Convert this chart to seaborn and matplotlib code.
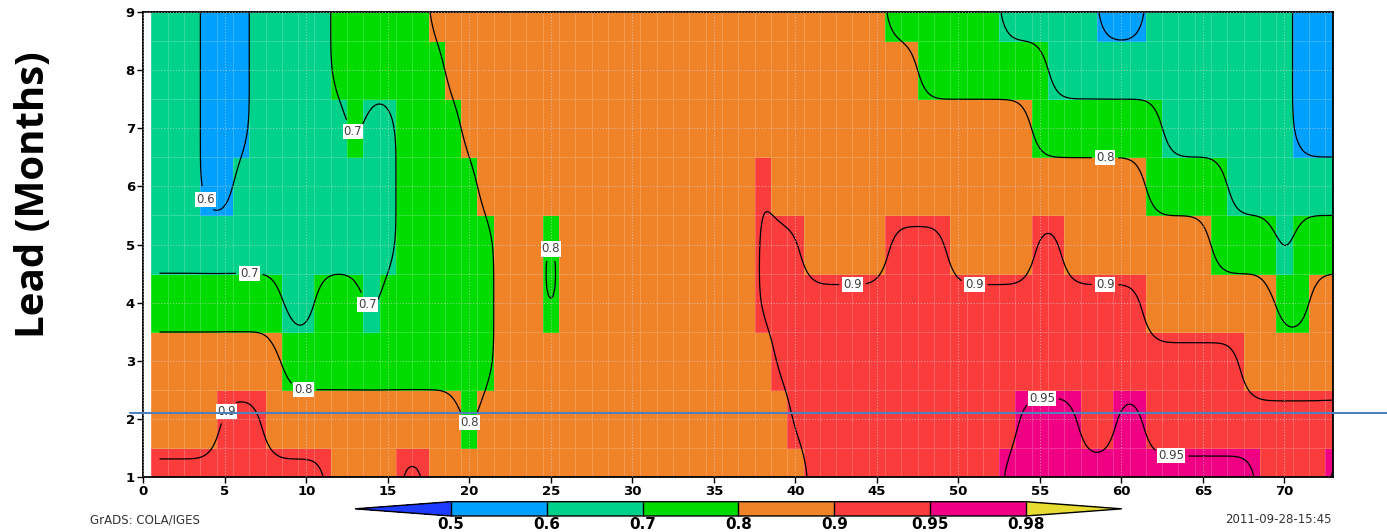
import numpy as np
import pandas as pd
import matplotlib
matplotlib.use("Agg")
import matplotlib.pyplot as plt
from matplotlib.colors import ListedColormap, BoundaryNorm
from matplotlib.lines import Line2D
import seaborn as sns

# --- levels and GrADS default shade colours ---
levels = [0.5, 0.6, 0.7, 0.8, 0.9, 0.95, 0.98]
level_labels = ["0.5", "0.6", "0.7", "0.8", "0.9", "0.95", "0.98"]
shade_colors = ["#00a0ff", "#00d28c", "#00dc00", "#f08228", "#fa3c3c", "#f00082"]
under_color = "#1e3cff"
over_color = "#e6dc32"
contour_levels = [0.6, 0.7, 0.8, 0.9, 0.95]

# representative value of each shaded class (B=0.5-0.6 ... M=0.95-0.98)
class_value = {"B": 0.55, "T": 0.65, "G": 0.75, "O": 0.85, "R": 0.925, "M": 0.965}

target = list(range(1, 74))   # x axis
lead = list(range(1, 10))     # lead months

# shaded class per lead month, run length (class, columns) from left to right
lead1 = [("R", 11), ("O", 4), ("R", 2), ("O", 23), ("R", 12), ("M", 16), ("R", 4), ("M", 1)]
lead2 = [("O", 4), ("R", 3), ("O", 12), ("G", 1), ("O", 19), ("R", 14), ("M", 4), ("R", 2),
         ("M", 2), ("R", 12)]
lead3 = [("O", 8), ("G", 13), ("O", 17), ("R", 29), ("O", 6)]
lead4 = [("G", 8), ("T", 2), ("G", 3), ("T", 1), ("G", 7), ("O", 3), ("G", 1), ("O", 12),
         ("R", 24), ("O", 8), ("G", 2), ("O", 2)]
lead5 = [("T", 15), ("G", 6), ("O", 3), ("G", 1), ("O", 12), ("R", 3), ("O", 5), ("R", 4),
         ("O", 5), ("R", 2), ("O", 9), ("G", 4), ("T", 1), ("G", 3)]
lead6 = [("T", 3), ("B", 2), ("T", 10), ("G", 5), ("O", 17), ("R", 1), ("O", 23), ("G", 5),
         ("T", 7)]
lead7 = [("T", 3), ("B", 3), ("T", 6), ("G", 1), ("T", 2), ("G", 4), ("O", 35), ("G", 8),
         ("T", 8), ("B", 3)]
lead8 = [("T", 3), ("B", 3), ("T", 5), ("G", 7), ("O", 29), ("G", 8), ("T", 15), ("B", 3)]
lead9 = [("T", 3), ("B", 3), ("T", 5), ("G", 6), ("O", 28), ("G", 7), ("T", 6), ("B", 3),
         ("T", 9), ("B", 3)]
rows = [lead1, lead2, lead3, lead4, lead5, lead6, lead7, lead8, lead9]

# contour label spots (target, lead), GrADS style boxed labels
label_spots = [(4, 5.8), (12.5, 6.85), (6.5, 4.85), (13.7, 3.95),
               (10, 2.85), (20, 1.85), (25, 5.3), (59, 6.45),
               (5, 2.15), (43.5, 4.55), (51, 4.4), (59, 4.5),
               (55, 2.75), (63, 1.05)]


def expand(runs):
    out = []
    for code, n in runs:
        out += [class_value[code]] * n
    return out


def upsample(n, factor):
    # linear interpolation weights onto a finer grid
    m = (n - 1) * factor + 1
    w = np.zeros((m, n))
    for j in range(m):
        i, r = divmod(j, factor)
        if i >= n - 1:
            w[j, n - 1] = 1.0
        else:
            w[j, i] = 1 - r / factor
            w[j, i + 1] = r / factor
    return w


def blur(m, sigma):
    # gaussian smoothing weights, edges held
    h = int(3 * sigma) + 1
    k = np.exp(-0.5 * (np.arange(-h, h + 1) / sigma) ** 2)
    k /= k.sum()
    g = np.zeros((m, m))
    for j in range(m):
        for off, c in zip(range(-h, h + 1), k):
            g[j, min(max(j + off, 0), m - 1)] += c
    return g


df = pd.DataFrame([expand(r) for r in rows], index=lead, columns=target)

cmap = ListedColormap(shade_colors).with_extremes(under=under_color, over=over_color)
norm = BoundaryNorm(levels, ncolors=len(shade_colors))

sns.set_style("white")
plt.rcParams["font.family"] = ["DejaVu Sans"]
plt.rcParams["text.color"] = "black"
plt.rcParams["xtick.color"] = "black"
plt.rcParams["ytick.color"] = "black"

fig = plt.figure(figsize=(13.87, 5.32), dpi=100)
ax = fig.add_axes([0.1033, 0.1034, 0.858, 0.874])
cax = fig.add_axes([0.256, 0.0301, 0.5528, 0.0269])

sns.heatmap(df, ax=ax, cmap=cmap, norm=norm, cbar=True, cbar_ax=cax,
            linewidths=0.4, linecolor=(1, 1, 1, 0.2),
            xticklabels=False, yticklabels=False,
            cbar_kws={"orientation": "horizontal", "extend": "both",
                      "extendfrac": 0.167, "drawedges": True, "spacing": "uniform"})

# heatmap cell j sits at j+0.5, so value v is drawn at v-0.5
ax.set_xlim(-0.5, 72.5)
ax.set_ylim(0.5, 8.5)

# smoothed contour lines, GrADS style
fac = 8
wy = upsample(len(lead), fac)
wx = upsample(len(target), fac)
gy = blur(wy.shape[0], 0.3 * fac)
gx = blur(wx.shape[0], 0.6 * fac)
zf = gy @ wy @ df.values @ wx.T @ gx.T
xf = np.linspace(target[0], target[-1], wx.shape[0]) - 0.5
yf = np.linspace(lead[0], lead[-1], wy.shape[0]) - 0.5
cs = ax.contour(xf, yf, zf, levels=contour_levels, colors="black", linewidths=0.9)
fmt = {lv: str(lv) for lv in contour_levels}
ax.clabel(cs, fmt=fmt, inline=True, inline_spacing=4, fontsize=8.5, colors="#404040",
          manual=[(x - 0.5, y - 0.5) for x, y in label_spots])
for t in cs.labelTexts:
    t.set_rotation(0)
    t.set_bbox(dict(facecolor="white", edgecolor="none", pad=0.8))

ax.set_xticks([v - 0.5 for v in range(0, 71, 5)])
ax.set_xticklabels([str(v) for v in range(0, 71, 5)])
ax.set_yticks([v - 0.5 for v in lead])
ax.set_yticklabels([str(v) for v in lead])
ax.tick_params(direction="out", length=4, width=1, pad=2, labelsize=9.5, color="black",
               labelcolor="black", left=True, bottom=True)
for lab in ax.get_xticklabels() + ax.get_yticklabels():
    lab.set_fontweight("bold")
ax.set_xlabel("")
ax.set_ylabel("")
ax.grid(True, linestyle=":", color="#d8d8d8", linewidth=0.8, alpha=0.6)
ax.set_axisbelow(False)
for s in ax.spines.values():
    s.set_visible(True)
    s.set_color("black")
    s.set_linewidth(1.3)

# colorbar
cb = ax.collections[0].colorbar
cb.outline.set_linewidth(1)
cb.outline.set_edgecolor("black")
cb.dividers.set_color("black")
cb.dividers.set_linewidth(1)
cb.set_ticks(levels, labels=level_labels)
cax.tick_params(length=0, pad=1, labelsize=11, labelcolor="black")
for lab in cax.get_xticklabels():
    lab.set_fontweight("bold")

fig.text(0.024, 0.635, "Lead (Months)", rotation=90, ha="center", va="center",
         fontsize=29, fontweight="bold", family="Open Sans", color="black")
fig.text(0.065, 0.0226, "GrADS: COLA/IGES", ha="left", va="center", fontsize=8.5,
         color="#333333")
fig.text(0.883, 0.0226, "2011-09-28-15:45", ha="left", va="center", fontsize=8.5,
         color="#333333")

# horizontal marker line drawn across the figure
fig.add_artist(Line2D([130 / 1387, 1.0], [1 - 412.5 / 532] * 2, transform=fig.transFigure,
                      color="#4f81bd", linewidth=1.5))

fig.savefig("out.png", dpi=100)
